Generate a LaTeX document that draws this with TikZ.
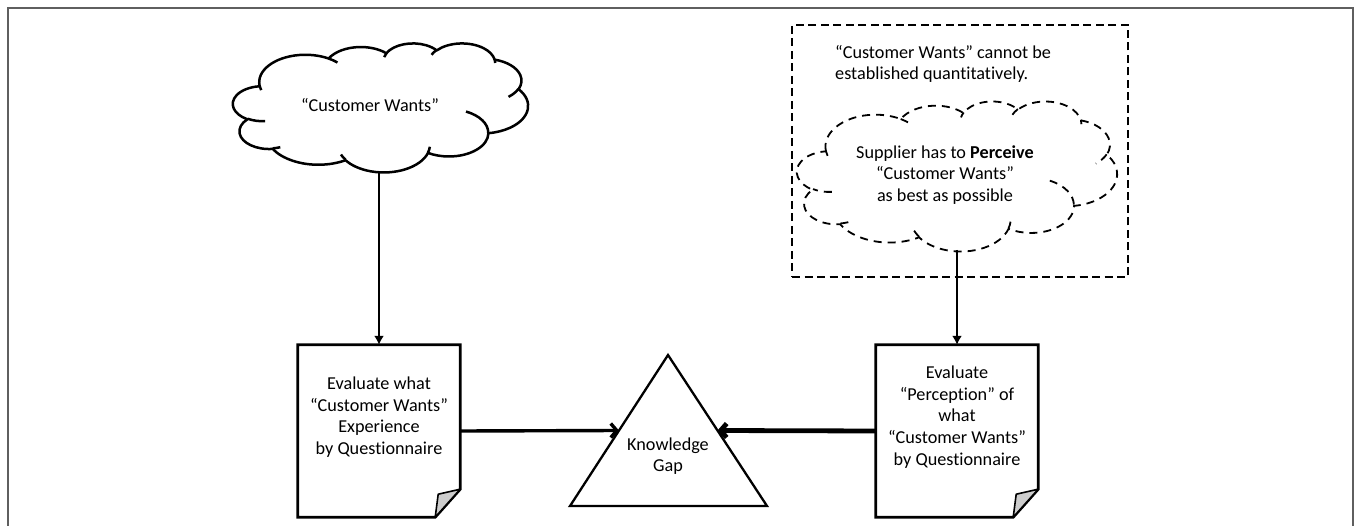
\documentclass[tikz,border=0pt]{standalone}
\usepackage{fontspec}
\setmainfont{Carlito}[Ligatures=NoCommon]
\usetikzlibrary{arrows.meta,calc}

% polar angle #1 on an ellipse with radii #2, #3 -> parametric angle
\pgfmathdeclarefunction{pang}{3}{%
  \begingroup
    \pgfmathparse{atan2((#2)*sin(#1),(#3)*cos(#1))}%
    \let\pangraw\pgfmathresult
    \pgfmathparse{\pangraw+360*round(((#1)-(\pangraw))/360)}%
    \pgfmathsmuggle\pgfmathresult
  \endgroup}

% elliptic arc given by radii, start angle and sweep (geometric angles)
\newcommand\carc[4]{arc[x radius=#1,y radius=#2,start angle={pang(#3,#1,#2)},end angle={pang(#3+#4,#1,#2)}]}

% cloud outline in a 432 x 432 box, y pointing down
\newcommand\cloudpuffs{(39.00,143.70)
  \carc{67.53}{91.90}{-190.4875}{123.7805}
  \carc{53.33}{72.67}{-144.1024}{89.9452}
  \carc{43.65}{59.45}{-145.8079}{99.7230}
  \carc{48.57}{65.95}{-130.9861}{117.2417}
  \carc{53.33}{72.73}{-78.7089}{109.0269}
  \carc{67.75}{92.20}{-46.2673}{130.2690}
  \carc{57.85}{78.67}{0.6250}{114.0333}
  \carc{67.52}{92.15}{22.4516}{115.1726}
  \carc{77.20}{105.43}{66.2426}{75.7110}
  \carc{43.60}{59.18}{-274.9421}{146.7356}
  \carc{43.45}{59.45}{-246.8285}{152.5189}
  -- cycle}

% short creases inside the cloud
\newcommand\cloudcreases{%
  (46.93,261.77) \carc{43.45}{59.45}{86.7420}{26.4295}
  (69.28,348.99) \carc{43.60}{59.18}{73.6105}{11.4475}
  (164.78,390.90) \carc{67.52}{92.15}{137.6242}{14.0811}
  (288.27,347.51) \carc{67.52}{92.15}{6.4533}{15.9984}
  (341.29,229.54) \carc{57.85}{78.67}{-70.2924}{70.9174}
  (417.98,153.54) \carc{53.33}{72.73}{30.3180}{27.7515}
  (383.24,54.26) \carc{48.57}{65.95}{-13.7443}{14.8589}
  (290.78,39.52) \carc{48.57}{65.95}{-149.1815}{18.1954}
  (221.41,47.20) \carc{43.65}{59.45}{-163.4943}{17.8373}
  (140.00,51.92) \carc{67.53}{91.90}{-66.7070}{12.3194}
  (41.27,157.89) \carc{67.53}{91.90}{157.6544}{11.8582}}

% #1,#2 top left corner, #3 width, #4 height, #5 line style
\newcommand\drawcloud[5]{%
  \pgfmathsetmacro\cloudsx{#3/432}%
  \pgfmathsetmacro\cloudsy{#4/432}%
  \begin{scope}[shift={(#1,#2)},x=\cloudsx pt,y=-\cloudsy pt]
    \path[fill=white,#5] \cloudpuffs;
    \draw[#5] \cloudcreases;
  \end{scope}}

% sheet with a folded lower right corner around node #1
\newcommand\drawsheet[1]{%
  \draw[sheetline] (#1.north west) -- (#1.north east)
    -- ($(#1.south east)+(0,-28)$) -- ($(#1.south east)+(-25,0)$)
    -- (#1.south west) -- cycle;
  \filldraw[foldline] ($(#1.south east)+(-25,0)$)
    .. controls ($(#1.south east)+(-24,-12)$) .. ($(#1.south east)+(-22,-23)$)
    -- ($(#1.south east)+(0,-28)$) -- cycle;}

\definecolor{framegray}{RGB}{95,95,95}
\definecolor{foldgray}{RGB}{205,205,205}

\tikzset{
  txt/.style={font=\fontsize{18.2}{21.7}\selectfont,align=center,inner sep=0pt},
  cloudline/.style={draw=black,line width=2.5pt,line join=round},
  dashcloud/.style={draw=black,line width=1.8pt,dash pattern=on 8pt off 6pt},
  sheetbox/.style={minimum width=162pt,minimum height=172pt,inner sep=0pt},
  sheetline/.style={draw=black,line width=2.8pt,fill=white,line join=miter},
  foldline/.style={draw=black,line width=1.6pt,fill=foldgray,line join=round},
  notebox/.style={draw=black,line width=2.3pt,dash pattern=on 8pt off 4.5pt,
    minimum width=336pt,minimum height=252pt,inner sep=0pt},
  downarrow/.style={line width=2.8pt,-{Latex[length=9pt,width=10pt]}},
  sidearrow/.style={line width=3.4pt,-{Straight Barb[length=6pt,width=14pt]}},
}

\begin{document}
\begin{tikzpicture}[x=1pt,y=-1pt]
\useasboundingbox (0,0) rectangle (1356,526);

% page frame, open at the bottom
\draw[framegray,line width=1.5pt] (8,530) -- (8,8) -- (1353,8) -- (1353,530);

% left branch
\drawcloud{233}{43}{295}{129}{cloudline}
\node[txt] (wants) at (370,105) {“Customer Wants”};
\coordinate (wantsbot) at (379,171);

\node[sheetbox] (evalA) at (379,431) {};
\drawsheet{evalA}
\node[txt] (evalAtxt) at (379,417) {Evaluate what\\“Customer Wants”\\Experience\\by Questionnaire};

% knowledge gap triangle
\coordinate (gaptop) at (668,355);
\coordinate (gapbl) at (570,506);
\coordinate (gapbr) at (767,506);
\draw[black,line width=2.3pt,line join=miter] (gaptop) -- (gapbr) -- (gapbl) -- cycle;
\coordinate (gapleft) at ($(gaptop)!0.5!(gapbl)$);
\coordinate (gapright) at ($(gaptop)!0.5!(gapbr)$);
\node[txt] (gap) at (668,456) {Knowledge\\Gap};

% right branch
\node[notebox] (note) at (960,151) {};
\node[txt,align=left,anchor=west] (notetxt) at (835,64)
  {\fontsize{18.2}{19}\selectfont “Customer Wants” cannot be\\established quantitatively.};
\drawcloud{797}{101}{320}{150}{dashcloud}
\node[txt] (perceive) at (945,175)
  {\fontsize{18.2}{22}\selectfont Supplier has to \textbf{Perceive}\\“Customer Wants”\\as best as possible};
\coordinate (perceivebot) at (957,250);

\node[sheetbox] (evalB) at (957,431) {};
\drawsheet{evalB}
\node[txt] (evalBtxt) at (957,417) {Evaluate\\“Perception” of\\what\\“Customer Wants”\\by Questionnaire};

% connectors
\draw[downarrow] (wantsbot) -- (evalA.north);
\draw[downarrow] (perceivebot) -- (evalB.north);
\draw[sidearrow] (evalA.east) -- (gapleft);
\draw[sidearrow,line width=4.8pt] (evalB.west) -- (gapright);
\end{tikzpicture}
\end{document}
